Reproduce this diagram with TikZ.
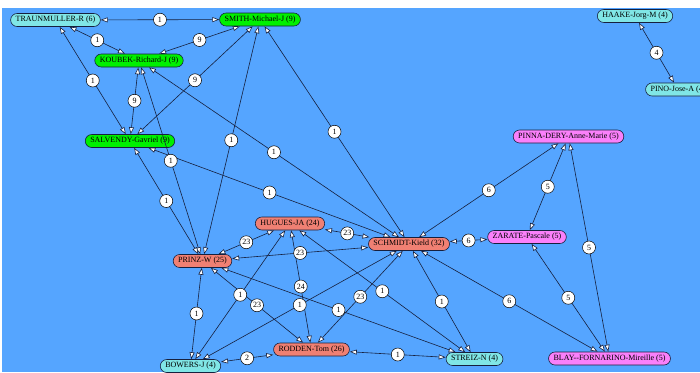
\documentclass[tikz,border=0pt]{standalone}
\usepackage{fontspec}
\setmainfont{Liberation Serif}
\usetikzlibrary{arrows.meta}
\definecolor{bg}{RGB}{85,165,255}
\definecolor{edgec}{RGB}{22,32,62}
\definecolor{grn}{RGB}{0,240,0}
\definecolor{cyn}{RGB}{128,230,230}
\definecolor{sal}{RGB}{240,128,115}
\definecolor{mag}{RGB}{250,128,250}
\begin{document}
\begin{tikzpicture}[x=1pt,y=-1pt,
  person/.style={rectangle, rounded corners=6.5pt, draw=edgec, line width=0.6pt,
    font=\fontsize{8}{9}\selectfont, inner xsep=5pt, inner ysep=0pt, minimum height=13pt},
  link/.style={draw=edgec, line width=0.6pt,
    {Triangle[length=7pt,width=5pt,fill=white]}-{Triangle[length=7pt,width=5pt,fill=white]}},
  wt/.style={circle, draw=black, line width=0.5pt, fill=white, inner sep=0pt,
    minimum size=13pt, font=\fontsize{8}{9}\selectfont}
]
\fill[white] (0,0) rectangle (700,372);
\fill[bg] (2,8) rectangle (700,372);
\useasboundingbox (0,0) rectangle (700,372);

\node[person, fill=cyn] (traun)   at (55.5,20)   {TRAUNMULLER-R (6)};
\node[person, fill=grn] (smith)   at (260,19.5)  {SMITH-Michael-J (9)};
\node[person, fill=grn] (koubek)  at (139,60.5)  {KOUBEK-Richard-J (9)};
\node[person, fill=grn] (salv)    at (130,141)   {SALVENDY-Gavriel (9)};
\node[person, fill=cyn] (haake)   at (635,16)    {HAAKE-Jorg-M (4)};
\node[person, fill=cyn] (pino)    at (678,89.5)  {PINO-Jose-A (4)};
\node[person, fill=mag] (pinna)   at (568.5,136.5) {PINNA-DERY-Anne-Marie (5)};
\node[person, fill=sal] (hugues)  at (290,223.5) {HUGUES-JA (24)};
\node[person, fill=sal] (schmidt) at (409,244)   {SCHMIDT-Kield (32)};
\node[person, fill=mag] (zarate)  at (527,237)   {ZARATE-Pascale (5)};
\node[person, fill=sal] (prinz)   at (202.5,261) {PRINZ-W (25)};
\node[person, fill=sal] (rodden)  at (311.5,349.5) {RODDEN-Tom (26)};
\node[person, fill=cyn] (bowers)  at (190.5,366) {BOWERS-J (4)};
\node[person, fill=cyn] (streiz)  at (474.5,359) {STREIZ-N (4)};
\node[person, fill=mag] (blay)    at (609.5,358.5) {BLAY-{}-FORNARINO-Mireille (5)};

\def\edgelist{traun/smith/1, traun/koubek/1, traun/salv/1, smith/koubek/9,
  smith/salv/9, koubek/salv/9, smith/prinz/1, smith/schmidt/1, koubek/schmidt/1,
  koubek/prinz/1, salv/schmidt/1, salv/prinz/1, hugues/prinz/23, hugues/schmidt/23,
  schmidt/prinz/23, hugues/rodden/24, hugues/bowers/1, prinz/rodden/23,
  prinz/bowers/1, schmidt/bowers/1, schmidt/rodden/23, prinz/streiz/1,
  hugues/streiz/1, schmidt/streiz/1, rodden/streiz/1, rodden/bowers/2,
  schmidt/zarate/6, schmidt/pinna/6, schmidt/blay/6, pinna/zarate/5,
  pinna/blay/5, zarate/blay/5, haake/pino/4}

\foreach \a/\b/\w in \edgelist { \draw[link] (\a) -- (\b); }
\foreach \a/\b/\w in \edgelist { \path (\a) -- node[wt] {\w} (\b); }
\end{tikzpicture}
\end{document}
